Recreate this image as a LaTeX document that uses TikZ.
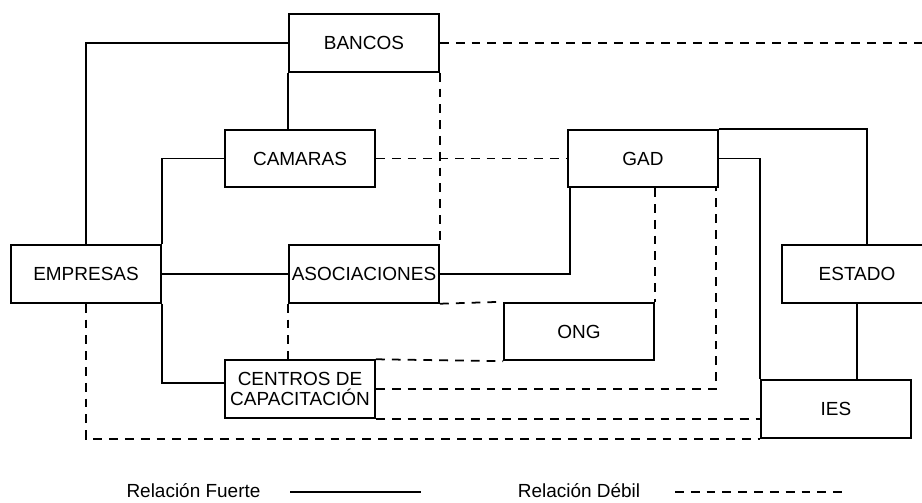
\documentclass[tikz,border=0pt]{standalone}
\usepackage{fontspec}
\setmainfont{Liberation Sans}
\usetikzlibrary{calc}
\tikzset{
  caja/.style={shape=rectangle,draw=black,line width=1.1pt,minimum width=3cm,minimum height=1.15cm,inner sep=0pt,align=center,font=\fontsize{10.8}{11.4}\selectfont},
  fuerte/.style={draw=black,line width=1pt},
  debil/.style={draw=black,line width=1pt,dash pattern=on 5pt off 4pt},
  leyenda/.style={anchor=base,inner sep=0pt,font=\fontsize{10.8}{13}\selectfont}
}
\begin{document}
\begin{tikzpicture}
				\useasboundingbox (0,0) rectangle (18.44,10.04);
				\clip (0,0) rectangle (18.44,10.04);
				\coordinate (rt) at (18.44,0);

				\node[caja] (ban) at (7.28,9.18) {BANCOS};
				\node[caja] (cam) at (6.00,6.87) {CAMARAS};
				\node[caja] (gad) at (12.86,6.87) {GAD};
				\node[caja] (emp) at (1.72,4.56) {EMPRESAS};
				\node[caja] (aso) at (7.28,4.56) {ASOCIACIONES};
				\node[caja] (est) at (17.14,4.56) {ESTADO};
				\node[caja] (ong) at (11.58,3.41) {ONG};
				\node[caja] (cen) at (6.00,2.26) {CENTROS DE\\CAPACITACIÓN};
				\node[caja] (ies) at (16.72,1.86) {IES};

				\draw[fuerte] (emp.north) |- (ban.west);
				\draw[fuerte] (ban.south west) -- (ban.south west |- cam.north);
				\draw[fuerte] (cam.west) -| (emp.north east);
				\draw[fuerte] (emp.east) -- (aso.west);
				\draw[fuerte] (emp.south east) |- ([yshift=1.2mm]cen.west);
				\draw[fuerte] (aso.east) -| ([xshift=0.6mm]gad.south west);
				\draw[fuerte] (gad.north east) -| ([xshift=2mm]est.north);
				\draw[fuerte] (gad.east) -| (ies.north west);
				\draw[fuerte] (est.south) -- (est.south |- ies.north);

				\draw[debil] (ban.east) -- (ban.east -| rt);
				\draw[debil] (ban.south east) -- (aso.north east);
				\draw[debil] (cam.east) -- (gad.west);
				\draw[debil] (aso.south east) -- (ong.north west);
				\draw[debil] (gad.south -| ong.north east) -- (ong.north east);
				\draw[debil] (aso.south west) -- (aso.south west |- cen.north);
				\draw[debil] (cen.north east) -- (ong.south west);
				\draw[debil] (cen.east) -| ([xshift=-0.6mm]gad.south east);
				\draw[debil] (cen.south east) -- (cen.south east -| ies.west);
				\draw[debil] (emp.south) |- (ies.south west);

				\node[leyenda] (lf) at (3.87,0.10) {Relación Fuerte};
				\node[leyenda] (ld) at (11.58,0.10) {Relación Débil};
				\coordinate (lf1) at (5.80,0.20);
				\coordinate (lf2) at (8.42,0.20);
				\coordinate (ld1) at (13.50,0.20);
				\coordinate (ld2) at (16.86,0.20);
				\draw[fuerte] (lf1) -- (lf2);
				\draw[debil] (ld1) -- (ld2);
			\end{tikzpicture}
\end{document}
